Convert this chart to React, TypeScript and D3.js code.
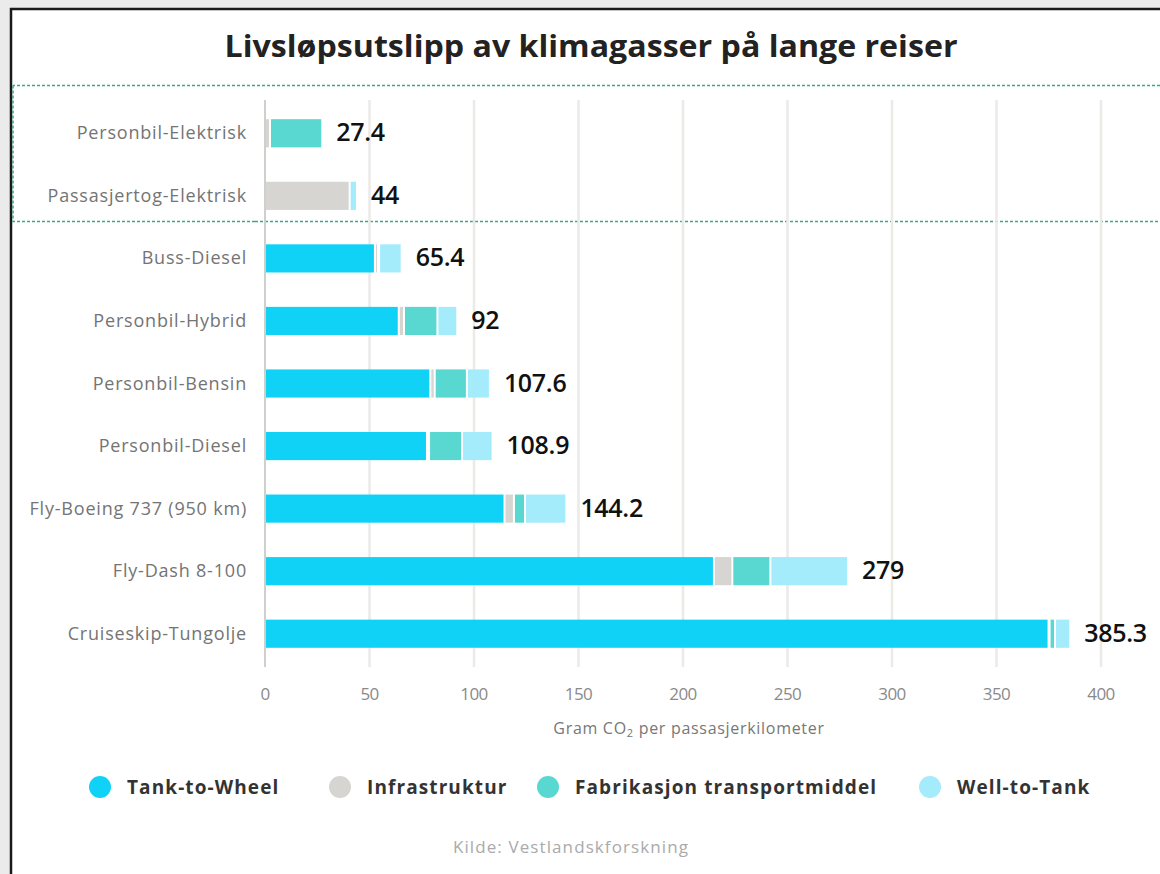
import * as d3 from 'd3'

const categories = [
  'Personbil-Elektrisk',
  'Passasjertog-Elektrisk',
  'Buss-Diesel',
  'Personbil-Hybrid',
  'Personbil-Bensin',
  'Personbil-Diesel',
  'Fly-Boeing 737 (950 km)',
  'Fly-Dash 8-100',
  'Cruiseskip-Tungolje',
]
const tankToWheel = [0, 0, 52.6, 64, 79.1, 77.5, 114.6, 214.8, 374.9]
const infrastruktur = [2.4, 40.5, 1.5, 2.5, 2.1, 1, 4.5, 8.8, 0.5]
const fabrikasjon = [25, 0, 0.5, 16, 15.4, 15.8, 5.3, 18.2, 2.6]
const wellToTank = [0, 3.5, 10.8, 9.5, 11, 14.6, 19.8, 37.2, 7.3]
const seriesNames = ['Tank-to-Wheel', 'Infrastruktur', 'Fabrikasjon transportmiddel', 'Well-to-Tank']
const seriesColors = ['#10d2f7', '#d6d5d1', '#58d8d1', '#a4ebfb']
const xTicks = [0, 50, 100, 150, 200, 250, 300, 350, 400]

const W = 1160
const H = 874

export default function App() {
  const series = [tankToWheel, infrastruktur, fabrikasjon, wellToTank]
  const rows = categories.map((c, i) => ({
    name: c,
    tankToWheel: tankToWheel[i],
    infrastruktur: infrastruktur[i],
    fabrikasjon: fabrikasjon[i],
    wellToTank: wellToTank[i],
  }))
  const keys = ['tankToWheel', 'infrastruktur', 'fabrikasjon', 'wellToTank']
  const stacked = d3.stack<any>().keys(keys)(rows)

  const x = d3.scaleLinear().domain([0, 400]).range([265, 1101])
  const y = d3.scaleBand<string>().domain(categories).range([102, 665]).paddingInner(0.55).paddingOuter(0.275)
  const bw = y.bandwidth()
  const totals = categories.map((_, i) => d3.sum(series, s => s[i]))
  const fmt = (v: number) => String(Math.round(v * 10) / 10)

  const legendX = [100, 340, 548, 930]

  return (
    <svg width={W} height={H} style={{ position: 'absolute', left: 0, top: 0 }} fontFamily="'Open Sans', sans-serif">
      <rect width={W} height={H} fill="#ebebeb" />
      <rect x={11} y={9} width={W - 11} height={H - 9} fill="#fff" />
      <line x1={11} x2={11} y1={8} y2={H} stroke="#1a1a1a" strokeWidth={2.5} />
      <line x1={10} x2={W} y1={9} y2={9} stroke="#1a1a1a" strokeWidth={2.5} />

      <text x={591} y={57} textAnchor="middle" fontSize={30} fontWeight={700} fill="#222" textLength={733} lengthAdjust="spacingAndGlyphs">
        Livsløpsutslipp av klimagasser på lange reiser
      </text>

      {/* highlight box round the electric rows */}
      <path d={`M${W},85.5H13H13V221.5H${W}`} fill="none" stroke="#3aa886" strokeWidth={1.5} strokeDasharray="3 2" />

      {xTicks.map(t => (
        <g key={t}>
          <line x1={x(t)} x2={x(t)} y1={100} y2={667} stroke={t === 0 ? '#cfcfcc' : '#eceae7'} strokeWidth={t === 0 ? 2 : 2.5} />
          <text x={x(t)} y={700} textAnchor="middle" fontSize={17} fill="#8a8a8a" letterSpacing={-0.6}>{t}</text>
        </g>
      ))}

      <text x={689} y={734} textAnchor="middle" fontSize={16} fill="#777" letterSpacing={0.7}>
        Gram CO<tspan fontSize={11} dy={3}>2</tspan><tspan dy={-3}> per passasjerkilometer</tspan>
      </text>

      {categories.map(c => (
        <text key={c} x={247} y={(y(c) ?? 0) + bw / 2 + 6} textAnchor="end" fontSize={18} fill="#747474" letterSpacing={0.8}>{c}</text>
      ))}

      {stacked.map((layer, k) => (
        <g key={layer.key} fill={seriesColors[k]}>
          {layer.map((d, i) => {
            const w = x(d[1]) - x(d[0]) - 2
            if (w <= 0) return null
            return <rect key={i} x={x(d[0]) + 1} y={y(categories[i])} width={w} height={bw} />
          })}
        </g>
      ))}

      {categories.map((c, i) => (
        <text key={c} x={x(totals[i]) + 14} y={(y(c) ?? 0) + bw / 2 + 8} fontSize={25} fontWeight={600} fill="#111" letterSpacing={-0.3}>
          {fmt(totals[i])}
        </text>
      ))}

      {seriesNames.map((s, k) => (
        <g key={s}>
          <circle cx={legendX[k]} cy={787} r={11} fill={seriesColors[k]} />
          <text x={legendX[k] + 27} y={794} fontSize={19} fontWeight={700} fill="#333" letterSpacing={1.1}>{s}</text>
        </g>
      ))}

      <text x={571} y={853} textAnchor="middle" fontSize={17} fill="#aaa" letterSpacing={1.1}>Kilde: Vestlandskforskning</text>
    </svg>
  )
}
